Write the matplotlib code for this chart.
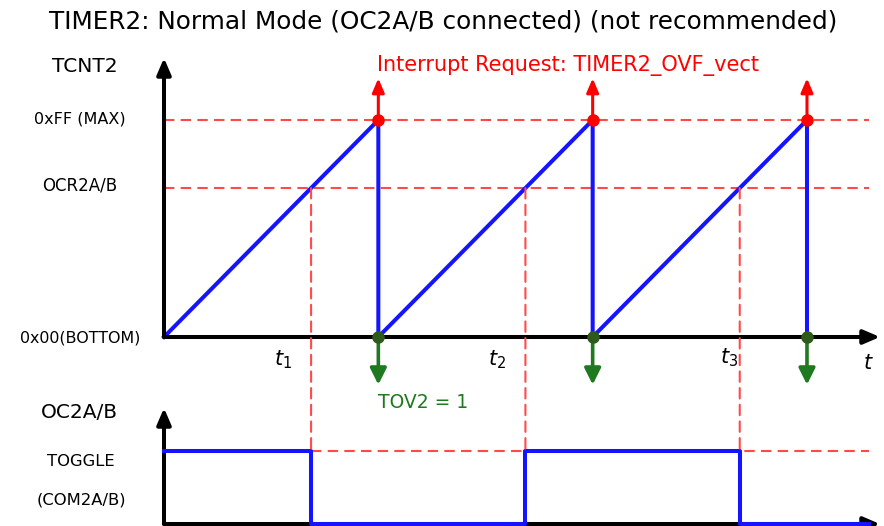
import matplotlib
matplotlib.use("Agg")
import matplotlib.pyplot as plt
from matplotlib.patches import ConnectionPatch

plt.rcParams['font.family'] = ['DejaVu Sans']

# ---------------- data ----------------
TOP = 255            # 0xFF (MAX)
OCR = 175            # compare value OCR2A/B
BOTTOM = 0           # 0x00
period_starts = [0, 1, 2]          # timer periods (units of one overflow period)
overflow_times = [1, 2, 3]         # TOV2 / interrupt instants
oc_levels = [1, 0, 1, 0]           # OC2A/B output level between toggles
t_end = 3.29                       # end of drawn time
interrupt_arrow_top = 304          # arrow tip (counts)
tov_arrow_bottom = -56             # arrow tip (counts)
y_tick_labels = ["0xFF (MAX)", "OCR2A/B", "0x00(BOTTOM)"]
t_labels = ["$t_1$", "$t_2$", "$t_3$"]

match_times = [s + OCR / TOP for s in period_starts]

# ---------------- figure ----------------
W, H = 884, 526
fig = plt.figure(figsize=(W / 100, H / 100), dpi=100)


def rect(x0, y0, x1, y1):
    return [x0 / W, 1 - y1 / H, (x1 - x0) / W, (y1 - y0) / H]


def fx(x):
    return x / W


def fy(y):
    return 1 - y / H


BLUE = "#1414ff"
RED_D = "#ff4a4a"
RED = "#ff0000"
GREEN = "#1f7a1f"
GREEN_DOT = "#2e5a1c"
dash = (0, (5, 3))

ax1 = fig.add_axes(rect(164, 58, 880, 337))
ax2 = fig.add_axes(rect(164, 408, 880, 524))
xmax = (880 - 164) / 214.33
ax1.set_xlim(0, xmax)
ax1.set_ylim(0, TOP * (337 - 58) / (337 - 120))
ax2.set_xlim(0, xmax)
ax2.set_ylim(0, (524 - 408) / (524 - 451))
for ax in (ax1, ax2):
    ax.set_axis_off()

# axis arrows
for ax in (ax1, ax2):
    for end in [(1, 0), (0, 1)]:
        ax.annotate("", xy=end, xytext=(0, 0), xycoords="axes fraction",
                    textcoords="axes fraction",
                    arrowprops=dict(arrowstyle="-|>,head_length=0.7,head_width=0.3",
                                    color="black", lw=2.9, mutation_scale=14,
                                    shrinkA=0, shrinkB=0),
                    annotation_clip=False, zorder=3)

# red dashed reference lines
ax1.hlines([TOP, OCR], 0, t_end, colors=RED_D, linestyles=dash, lw=1.5, zorder=1)
ax2.hlines(1, match_times[0], t_end, colors=RED_D, linestyles=dash, lw=1.5, zorder=1)
for tm in match_times:
    con = ConnectionPatch(xyA=(tm, OCR), coordsA=ax1.transData,
                          xyB=(tm, 1), coordsB=ax2.transData,
                          color=RED_D, lw=1.5, linestyle=dash, zorder=1)
    fig.add_artist(con)

# sawtooth counter
saw_x, saw_y = [], []
for s, o in zip(period_starts, overflow_times):
    saw_x += [s, o, o]
    saw_y += [BOTTOM, TOP, BOTTOM]
ax1.plot(saw_x, saw_y, color=BLUE, lw=2.9, zorder=2, clip_on=False)

# OC2A/B output
step_x = [0] + match_times + [t_end]
step_y = oc_levels + [oc_levels[-1]]
ax2.plot(step_x, step_y, drawstyle="steps-post", color=BLUE, lw=2.9,
         zorder=4, clip_on=False)

# interrupt arrows and TOV arrows
for o in overflow_times:
    ax1.annotate("", xy=(o, interrupt_arrow_top), xytext=(o, TOP),
                 arrowprops=dict(arrowstyle="-|>,head_length=0.7,head_width=0.3",
                                 color=RED, lw=2.2, mutation_scale=12,
                                 shrinkA=0, shrinkB=0),
                 annotation_clip=False, zorder=5)
    ax1.annotate("", xy=(o, tov_arrow_bottom), xytext=(o, BOTTOM),
                 arrowprops=dict(arrowstyle="-|>,head_length=0.7,head_width=0.35",
                                 color=GREEN, lw=2.6, mutation_scale=14,
                                 shrinkA=0, shrinkB=0),
                 annotation_clip=False, zorder=5)
ax1.plot(overflow_times, [TOP] * len(overflow_times), "o", color=RED, ms=8,
         zorder=6, clip_on=False)
ax1.plot(overflow_times, [BOTTOM] * len(overflow_times), "o", color=GREEN_DOT,
         ms=8, zorder=6, clip_on=False)

# texts
fig.text(fx(443), fy(21), "TIMER2: Normal Mode (OC2A/B connected) (not recommended)",
         ha="center", va="center", fontsize=17.8)
fig.text(fx(85), fy(66), "TCNT2", ha="center", va="center", fontsize=14.5)
for lab, yv, fs in zip(y_tick_labels, [119, 185, 338], [11.5, 12, 11.4]):
    fig.text(fx(80), fy(yv), lab, ha="center", va="center", fontsize=fs)
fig.text(fx(79), fy(412), "OC2A/B", ha="center", va="center", fontsize=14.5)
fig.text(fx(81), fy(462), "TOGGLE", ha="center", va="center", fontsize=11.8)
fig.text(fx(81), fy(500), "(COM2A/B)", ha="center", va="center", fontsize=11.8)
fig.text(fx(377), fy(66), "Interrupt Request: TIMER2_OVF_vect", ha="left",
         va="center", fontsize=15, color=RED)
fig.text(fx(378), fy(402), "TOV2 = 1", ha="left", va="center", fontsize=13.5,
         color=GREEN)
for lab, xp, yp in zip(t_labels, [283, 497, 729], [360, 360, 358]):
    fig.text(fx(xp), fy(yp), lab, ha="center", va="center", fontsize=15)
fig.text(fx(868), fy(363), "$t$", ha="center", va="center", fontsize=15)

fig.savefig("out.png", dpi=100)
